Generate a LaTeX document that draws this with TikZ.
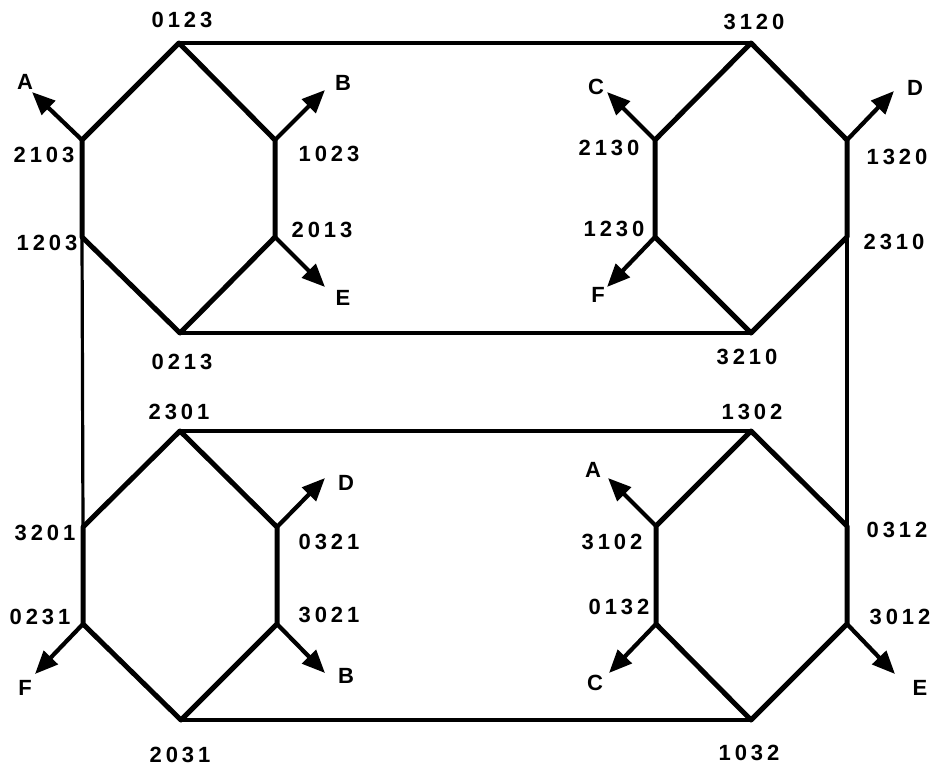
\documentclass[tikz,border=0pt]{standalone}
\usepackage{fontspec}
\setmainfont[LetterSpace=18]{Liberation Sans}
\usetikzlibrary{arrows.meta}
\begin{document}
\begin{tikzpicture}[x=1pt,y=-1pt,
  hexedge/.style={line width=5pt,line cap=round,line join=round},
  link/.style={line width=3.2pt},
  outarrow/.style={line width=4.2pt,-{Triangle[length=23pt,width=19pt]}},
  lbl/.style={inner sep=0pt,font=\fontsize{22}{25}\selectfont\bfseries},
  letter/.style={inner sep=0pt,font=\fontsize{22}{25}\selectfont\bfseries}]
\useasboundingbox (0,0) rectangle (937,769);
% top-left hexagon
\coordinate (v0123) at (179,43);
\coordinate (v2103) at (82,140);
\coordinate (v1203) at (82,237);
\coordinate (v0213) at (180,333);
\coordinate (v2013) at (275,237);
\coordinate (v1023) at (275,140);
% top-right hexagon
\coordinate (v3120) at (751,43);
\coordinate (v2130) at (655,140);
\coordinate (v1230) at (655,237);
\coordinate (v3210) at (751,333);
\coordinate (v2310) at (847,237);
\coordinate (v1320) at (847,140);
% bottom-left hexagon
\coordinate (v2301) at (180,431);
\coordinate (v3201) at (83,527);
\coordinate (v0231) at (83,624);
\coordinate (v2031) at (181,720);
\coordinate (v3021) at (277,624);
\coordinate (v0321) at (277,527);
% bottom-right hexagon
\coordinate (v1302) at (751,431);
\coordinate (v3102) at (656,526);
\coordinate (v0132) at (656,624);
\coordinate (v1032) at (751,720);
\coordinate (v3012) at (847,624);
\coordinate (v0312) at (847,526);
% arrow ends
\coordinate (eA1) at (32,92);
\coordinate (eB1) at (325,90);
\coordinate (eE1) at (325,287);
\coordinate (eC1) at (607,92);
\coordinate (eD1) at (894,91);
\coordinate (eF1) at (607,287);
\coordinate (eD2) at (325,478);
\coordinate (eB2) at (325,673);
\coordinate (eF2) at (35,674);
\coordinate (eA2) at (608,478);
\coordinate (eC2) at (609,673);
\coordinate (eE2) at (895,674);

% hexagons
\draw[hexedge] (v0123) -- (v1023) -- (v2013) -- (v0213) -- (v1203) -- (v2103) -- cycle;
\draw[hexedge] (v3120) -- (v1320) -- (v2310) -- (v3210) -- (v1230) -- (v2130) -- cycle;
\draw[hexedge] (v2301) -- (v0321) -- (v3021) -- (v2031) -- (v0231) -- (v3201) -- cycle;
\draw[hexedge] (v1302) -- (v0312) -- (v3012) -- (v1032) -- (v0132) -- (v3102) -- cycle;
% connecting links
\draw[link] (v0123) -- (v3120);
\draw[link] (v0213) -- (v3210);
\draw[link] (v2301) -- (v1302);
\draw[link] (v2031) -- (v1032);
\draw[link] (v1203) -- (v3201);
\draw[link] (v2310) -- (v0312);
% outgoing arrows
\draw[outarrow] (v2103) -- (eA1);
\draw[outarrow] (v1023) -- (eB1);
\draw[outarrow] (v2013) -- (eE1);
\draw[outarrow] (v2130) -- (eC1);
\draw[outarrow] (v1320) -- (eD1);
\draw[outarrow] (v1230) -- (eF1);
\draw[outarrow] (v0321) -- (eD2);
\draw[outarrow] (v3021) -- (eB2);
\draw[outarrow] (v0231) -- (eF2);
\draw[outarrow] (v3102) -- (eA2);
\draw[outarrow] (v0132) -- (eC2);
\draw[outarrow] (v3012) -- (eE2);

% vertex labels
\node[lbl] (l0123) at (182,20) {0123};
\node[lbl] (l2103) at (44,155) {2103};
\node[lbl] (l1203) at (47,243) {1203};
\node[lbl] (l0213) at (182,362) {0213};
\node[lbl] (l1023) at (329,154) {1023};
\node[lbl] (l2013) at (322,230) {2013};
\node[lbl] (l3120) at (754,22) {3120};
\node[lbl] (l2130) at (609,148) {2130};
\node[lbl] (l1230) at (614,229) {1230};
\node[lbl] (l3210) at (747,357) {3210};
\node[lbl] (l1320) at (897,157) {1320};
\node[lbl] (l2310) at (894,242) {2310};
\node[lbl] (l2301) at (179,412) {2301};
\node[lbl] (l3201) at (45,533) {3201};
\node[lbl] (l0231) at (40,617) {0231};
\node[lbl] (l2031) at (180,755) {2031};
\node[lbl] (l0321) at (329,542) {0321};
\node[lbl] (l3021) at (329,615) {3021};
\node[lbl] (l1302) at (752,412) {1302};
\node[lbl] (l3102) at (612,542) {3102};
\node[lbl] (l0132) at (619,607) {0132};
\node[lbl] (l1032) at (749,753) {1032};
\node[lbl] (l0312) at (897,530) {0312};
\node[lbl] (l3012) at (900,617) {3012};
% arrow letters
\node[letter] (tA1) at (25,82) {A};
\node[letter] (tB1) at (343,83) {B};
\node[letter] (tE1) at (343,298) {E};
\node[letter] (tC1) at (596,87) {C};
\node[letter] (tD1) at (915,88) {D};
\node[letter] (tF1) at (598,295) {F};
\node[letter] (tD2) at (346,483) {D};
\node[letter] (tB2) at (346,676) {B};
\node[letter] (tF2) at (25,688) {F};
\node[letter] (tA2) at (593,470) {A};
\node[letter] (tC2) at (595,683) {C};
\node[letter] (tE2) at (920,688) {E};
\end{tikzpicture}
\end{document}
